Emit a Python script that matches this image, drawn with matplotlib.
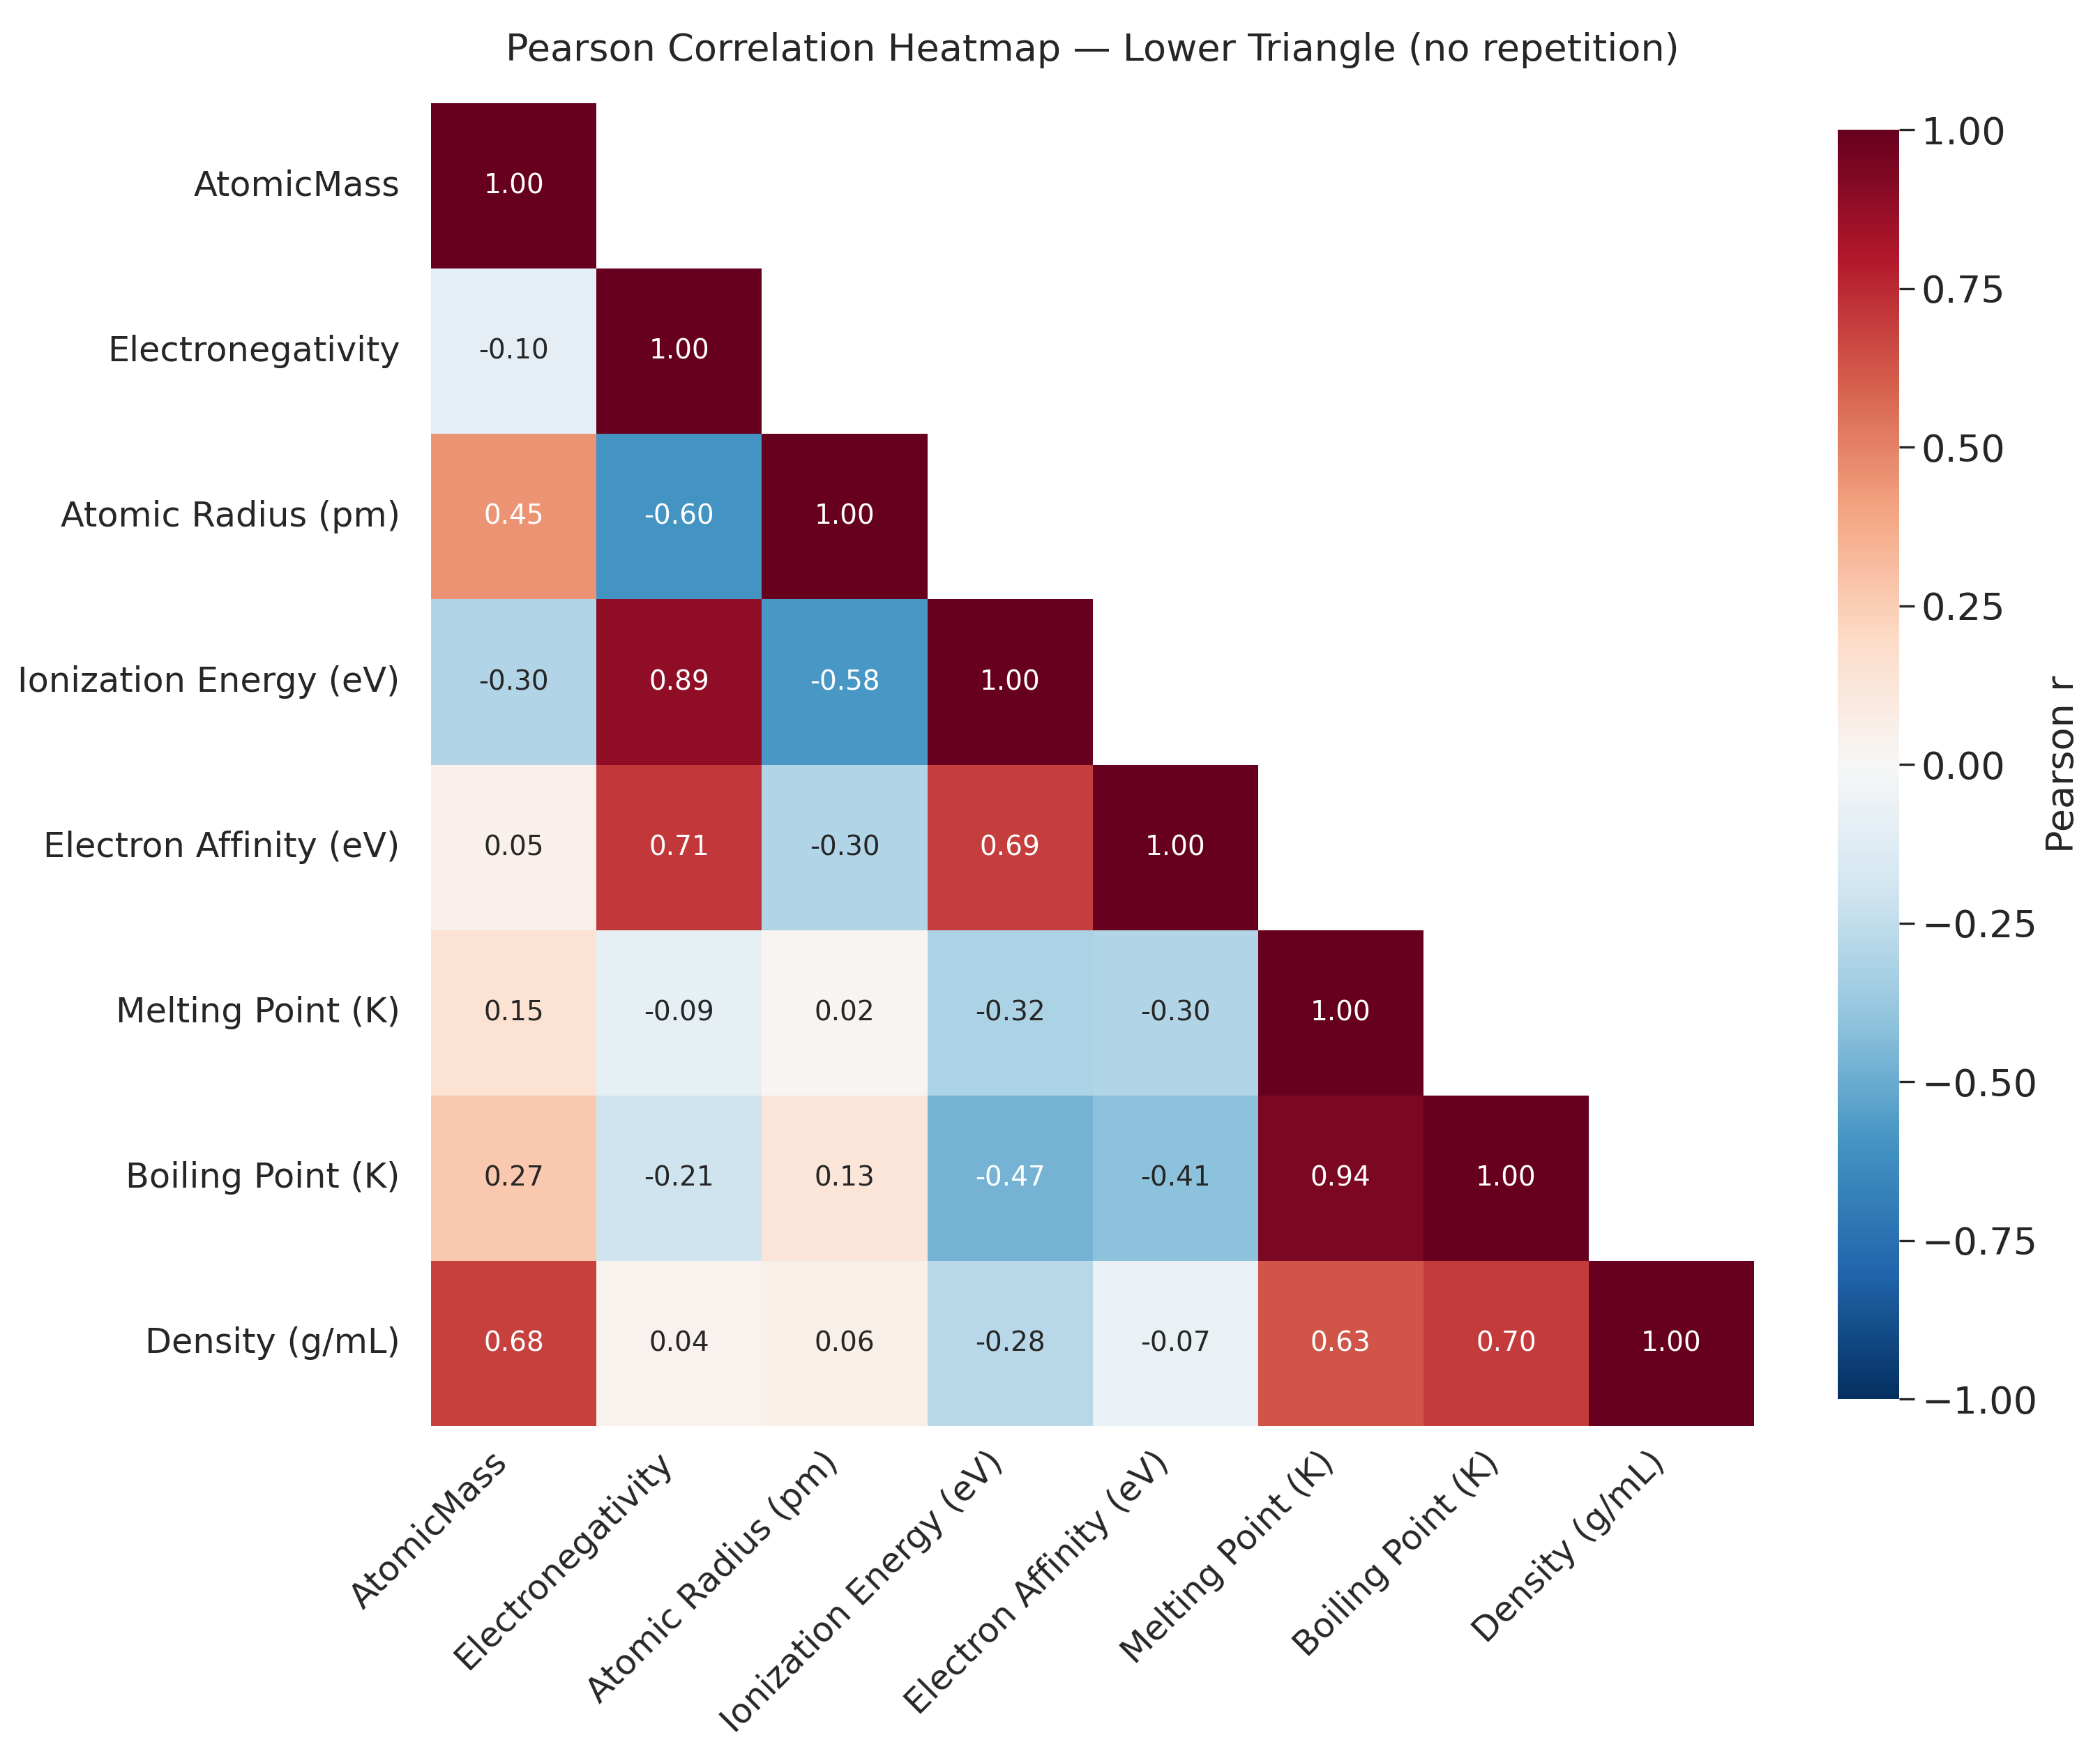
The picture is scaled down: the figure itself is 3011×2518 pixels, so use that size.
import numpy as np
import pandas as pd
import matplotlib
matplotlib.use("Agg")
import matplotlib.pyplot as plt
import seaborn as sns

labels = [
    "AtomicMass",
    "Electronegativity",
    "Atomic Radius (pm)",
    "Ionization Energy (eV)",
    "Electron Affinity (eV)",
    "Melting Point (K)",
    "Boiling Point (K)",
    "Density (g/mL)",
]

# lower triangle rows
row_atomic_mass = [1.00]
row_electroneg = [-0.10, 1.00]
row_radius = [0.45, -0.60, 1.00]
row_ionization = [-0.30, 0.89, -0.58, 1.00]
row_affinity = [0.05, 0.71, -0.30, 0.69, 1.00]
row_melting = [0.15, -0.09, 0.02, -0.32, -0.30, 1.00]
row_boiling = [0.27, -0.21, 0.13, -0.47, -0.41, 0.94, 1.00]
row_density = [0.68, 0.04, 0.06, -0.28, -0.07, 0.63, 0.70, 1.00]

rows = [row_atomic_mass, row_electroneg, row_radius, row_ionization,
        row_affinity, row_melting, row_boiling, row_density]

n = len(labels)
corr = np.full((n, n), np.nan)
for i, r in enumerate(rows):
    corr[i, :len(r)] = r
    corr[:len(r), i] = r
corr = pd.DataFrame(corr, index=labels, columns=labels)
mask = np.triu(np.ones((n, n), dtype=bool), k=1)

sns.set_theme(style="white")
plt.rcParams["font.family"] = ["DejaVu Sans"]

fig = plt.figure(figsize=(3011 / 200, 2518 / 200), dpi=200)
ax = fig.add_axes([0.2053, 0.1878, 0.630, 0.7534])
cax = fig.add_axes([0.8751, 0.2033, 0.0292, 0.7228])

sns.heatmap(
    corr, mask=mask, cmap="RdBu_r", vmin=-1, vmax=1, center=0,
    annot=True, fmt=".2f", annot_kws={"size": 14},
    square=True, ax=ax, cbar_ax=cax,
    cbar_kws={"label": "Pearson r", "ticks": np.arange(-1, 1.01, 0.25)},
)

ax.set_title("Pearson Correlation Heatmap — Lower Triangle (no repetition)",
             fontsize=19.5, pad=22, color="#262626")
ax.set_xticklabels(labels, rotation=45, ha="right", fontsize=17.8, color="#262626")
ax.set_yticklabels(labels, rotation=0, fontsize=17.8, color="#262626")
ax.tick_params(axis="y", length=0, pad=16)
ax.tick_params(axis="x", length=0, pad=10)

cax.tick_params(labelsize=19.5, length=8, width=1.2, colors="#262626", right=True)
cax.yaxis.set_major_formatter(matplotlib.ticker.StrMethodFormatter("{x:.2f}"))
cax.set_ylabel("Pearson r", fontsize=19.5, color="#262626")
for s in cax.spines.values():
    s.set_visible(False)

fig.savefig("out.png", dpi=200)
